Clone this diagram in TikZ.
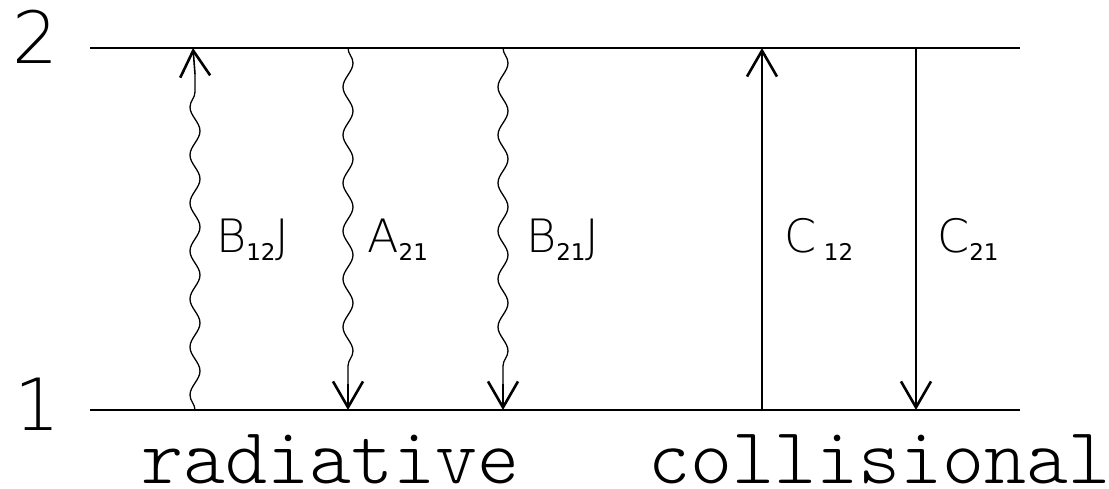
\documentclass[tikz,border=0pt]{standalone}
\usepackage{fontspec}
\usetikzlibrary{decorations.pathmorphing,arrows.meta}
\newfontfamily\lblfont{DejaVu Sans ExtraLight}
\newfontfamily\subfont{DejaVu Sans}
\newfontfamily\kindfont{Latin Modern Mono Light}
\newcommand{\lsub}[1]{\raisebox{-8pt}{\subfont\fontsize{23}{23}\selectfont #1}}
\tikzset{
  level/.style={line width=2.6pt},
  wavy/.style={line width=1.3pt, decorate, decoration={snake, segment length=48pt, amplitude=5pt}},
  tipline/.style={line width=1.6pt, -{Straight Barb[length=26pt,width=30pt,line width=2.6pt]}},
  coll/.style={line width=1.8pt, -{Straight Barb[length=26pt,width=30pt,line width=2.6pt]}},
  lvlnum/.style={font=\lblfont\fontsize{72}{72}\selectfont, inner sep=0pt},
  rate/.style={font=\lblfont\fontsize{46}{46}\selectfont, inner sep=0pt, anchor=base west},
  kind/.style={font=\kindfont\fontsize{80}{80}\selectfont, inner sep=0pt, anchor=base west, text depth=0pt}
}
\begin{document}
\begin{tikzpicture}[x=1pt,y=-1pt]
\useasboundingbox (0,0) rectangle (1109,489);
% levels
\coordinate (u0) at (90,48); \coordinate (u1) at (1020,48);
\coordinate (l0) at (90,410); \coordinate (l1) at (1020,410);
\draw[level] (u0) -- (u1);
\draw[level] (l0) -- (l1);
\node[lvlnum] (n2) at (35,37) {2};
\node[lvlnum] (n1) at (37,404) {1};
% B12J up
\coordinate (b12b) at (195,410); \coordinate (b12m) at (195,74); \coordinate (b12t) at (193,48);
\draw[wavy] (b12b) -- (b12m);
\draw[tipline] (b12m) -- (b12t);
% A21 down
\coordinate (a21t) at (348,48); \coordinate (a21m) at (348,384); \coordinate (a21b) at (348,410);
\draw[wavy] (a21t) -- (a21m);
\draw[tipline] (a21m) -- (a21b);
% B21J down
\coordinate (b21t) at (503,48); \coordinate (b21m) at (503,384); \coordinate (b21b) at (503,410);
\draw[wavy] (b21t) -- (b21m);
\draw[tipline] (b21m) -- (b21b);
% collisional
\coordinate (c12b) at (762,410); \coordinate (c12t) at (762,48);
\draw[coll] (c12b) -- (c12t);
\coordinate (c21t) at (916,48); \coordinate (c21b) at (916,410);
\draw[coll] (c21t) -- (c21b);
% labels
\node[rate] (lb12) at (216,253) {B\lsub{12}J};
\node[rate] (la21) at (367,253) {A\lsub{21}};
\node[rate] (lb21) at (526,253) {B\lsub{21}J};
\node[rate] (lc12) at (784,253) {C\,\lsub{12}};
\node[rate] (lc21) at (937,253) {C\lsub{21}};
\node[kind] (rad) at (141,483) {radiative};
\node[kind] (col) at (648,483) {collisional};
\end{tikzpicture}
\end{document}
